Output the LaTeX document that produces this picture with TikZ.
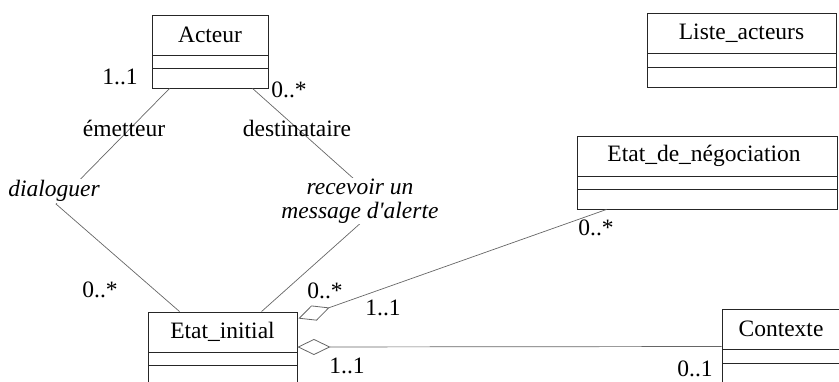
\documentclass[tikz,border=0pt]{standalone}
\usepackage{fontspec}
\setmainfont{Liberation Serif}
\usetikzlibrary{arrows.meta,calc,fit}
\begin{document}
\begin{tikzpicture}[x=1pt,y=-1pt,
  font=\fontsize{23.5}{27}\selectfont,
  box/.style={draw=black!85, line width=0.9pt, inner sep=0pt},
  sep/.style={draw=black!85, line width=0.9pt},
  assoc/.style={draw=black!60, line width=0.7pt},
  aggr/.style={assoc, -{Diamond[open, length=33pt, width=16pt, line width=0.8pt]}},
  lbl/.style={inner sep=0.5pt},
  role/.style={inner sep=1pt, font=\fontsize{23.5}{27}\selectfont\itshape, fill=white, align=center}]
\useasboundingbox (0,0) rectangle (839,381);
\clip (0,0) rectangle (839,381);
% classes
\node[box, fit={(152,15) (268,88)}] (acteur) {};
\draw[sep] (152,55) -- (268,55) (152,68) -- (268,68);
\node (acteurT) at (210,35) {Acteur};

\node[box, fit={(647,13) (836,87)}] (liste) {};
\draw[sep] (647,53) -- (836,53) (647,67) -- (836,67);
\node (listeT) at (741.5,33) {Liste\_acteurs};

\node[box, fit={(577,136) (837,209)}] (nego) {};
\draw[sep] (577,176) -- (837,176) (577,189) -- (837,189);
\node (negoT) at (704,156) {Etat\_de\_négociation};

\node[box, fit={(148,312) (297,400)}] (einit) {};
\draw[sep] (148,352) -- (297,352) (148,365) -- (297,365);
\node (einitT) at (222.5,332) {Etat\_initial};

\node[box, fit={(722,309) (842,400)}] (ctx) {};
\draw[sep] (722,349) -- (842,349) (722,363) -- (842,363);
\node (ctxT) at (781,329) {Contexte};

% associations
\coordinate (b1) at (56,204);
\coordinate (b2) at (382,204);
\draw[assoc] ($(acteur.south west)+(18,0)$) -- (b1) -- ($(einit.north west)+(32,0)$);
\draw[assoc] ($(acteur.south west)+(101,0)$) -- (b2) -- ($(einit.north west)+(114,0)$);
\node[role] (dial) at (54,191) {dialoguer};
\node[role] (recv) at (360,201) {recevoir un\\[-3pt]message d\textquotesingle alerte};

\draw[aggr] ($(nego.south west)+(30,0)$) -- ($(einit.north east)+(1,7)$);
\draw[aggr] (ctx.west |- 0,346.5) -- (einit.east |- 0,347);

% role names
\node[lbl] (em) at (124,128) {émetteur};
\node[lbl] (de) at (297,128) {destinataire};

% multiplicities
\node[lbl] (m1) at (120,77) {1..1};
\node[lbl] (m2) at (289,90) {0..*};
\node[lbl] (m3) at (100,290) {0..*};
\node[lbl] (m4) at (325,291) {0..*};
\node[lbl] (m5) at (383,308) {1..1};
\node[lbl] (m6) at (347,366) {1..1};
\node[lbl] (m7) at (596,228) {0..*};
\node[lbl] (m8) at (695,369) {0..1};
\end{tikzpicture}
\end{document}
